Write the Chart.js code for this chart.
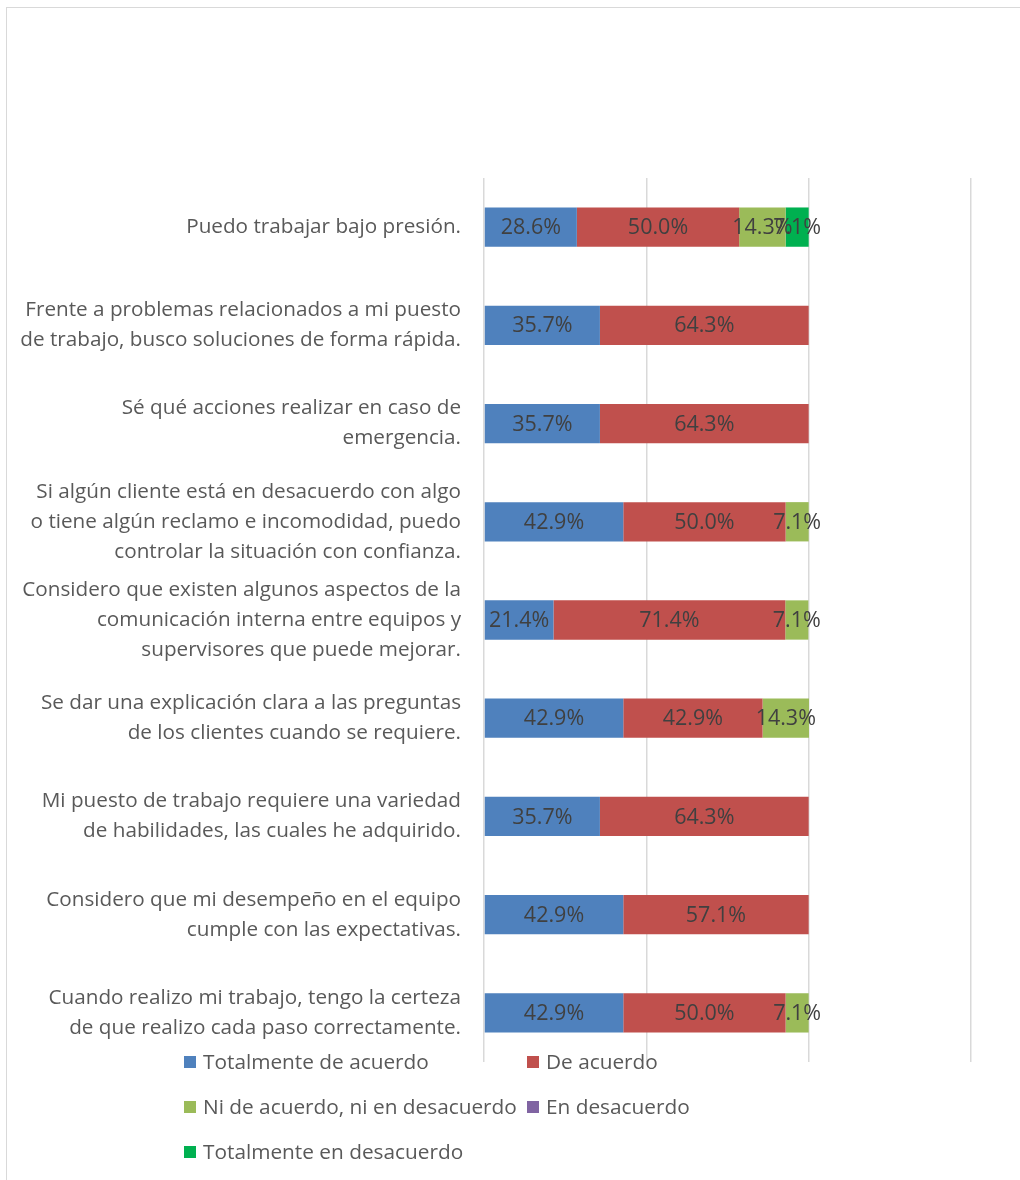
<!DOCTYPE html>
<html>
<head>
<meta charset="utf-8">
<script src="https://cdn.jsdelivr.net/npm/chart.js@4.4.1/dist/chart.umd.min.js"></script>
<style>
  html, body { margin: 0; padding: 0; background: #fff; overflow: hidden; }
  #wrap { position: relative; width: 1020px; height: 1180px; }
  #frame { position: absolute; left: 6px; top: 7px; width: 1100px; height: 1300px; border: 1px solid #d9d9d9; box-sizing: border-box; }
  canvas { position: absolute; left: 0; top: 0; }
  .leg { position: absolute; font-family: "Open Sans", Lato, sans-serif; font-size: 20.8px; color: #595959; white-space: nowrap; line-height: 22px; }
  .leg i { display: inline-block; width: 12px; height: 12px; margin-right: 7px; vertical-align: 1px; }
</style>
</head>
<body>
<div id="wrap">
  <div id="frame"></div>
  <canvas id="c" width="1020" height="1180"></canvas>
  <div id="legend"></div>
</div>
<script>
// Survey statements (multi-line labels, top to bottom)
const statements = [
  ['Puedo trabajar bajo presión.'],
  ['Frente a problemas relacionados a mi puesto', 'de trabajo, busco soluciones de forma rápida.'],
  ['Sé qué acciones realizar en caso de', 'emergencia.'],
  ['Si algún cliente está en desacuerdo con algo', 'o tiene algún reclamo e incomodidad, puedo', 'controlar la situación con confianza.'],
  ['Considero que existen algunos aspectos de la', 'comunicación interna entre equipos y', 'supervisores que puede mejorar.'],
  ['Se dar una explicación clara a las preguntas', 'de los clientes cuando se requiere.'],
  ['Mi puesto de trabajo requiere una variedad', 'de habilidades, las cuales he adquirido.'],
  ['Considero que mi desempeño en el equipo', 'cumple con las expectativas.'],
  ['Cuando realizo mi trabajo, tengo la certeza', 'de que realizo cada paso correctamente.']
];

// Response categories
const responseNames = [
  'Totalmente de acuerdo',
  'De acuerdo',
  'Ni de acuerdo, ni en desacuerdo',
  'En desacuerdo',
  'Totalmente en desacuerdo'
];
const responseColors = ['#4F81BD', '#C0504D', '#9BBB59', '#8064A2', '#00B050'];

// Percent of respondents per statement
const totalmenteDeAcuerdo   = [28.6, 35.7, 35.7, 42.9, 21.4, 42.9, 35.7, 42.9, 42.9];
const deAcuerdo             = [50.0, 64.3, 64.3, 50.0, 71.4, 42.9, 64.3, 57.1, 50.0];
const niDeAcuerdo           = [14.3, 0, 0, 7.1, 7.1, 14.3, 0, 0, 7.1];
const enDesacuerdo          = [0, 0, 0, 0, 0, 0, 0, 0, 0];
const totalmenteDesacuerdo  = [7.1, 0, 0, 0, 0, 0, 0, 0, 0];

// Value axis ticks (percent)
const axisTicks = [0, 50, 100, 150];

const seriesValues = [totalmenteDeAcuerdo, deAcuerdo, niDeAcuerdo, enDesacuerdo, totalmenteDesacuerdo];

const datasets = responseNames.map((name, i) => ({
  label: name,
  data: seriesValues[i],
  backgroundColor: responseColors[i],
  borderWidth: 0,
  categoryPercentage: 1.0,
  barPercentage: 0.4
}));

// Centered value labels on each segment
const segmentLabels = {
  id: 'segmentLabels',
  afterDatasetsDraw(chart) {
    const ctx = chart.ctx;
    ctx.save();
    ctx.font = '21.5px "Open Sans", Lato, sans-serif';
    ctx.fillStyle = '#404040';
    ctx.textAlign = 'center';
    ctx.textBaseline = 'middle';
    chart.data.datasets.forEach((ds, di) => {
      const meta = chart.getDatasetMeta(di);
      meta.data.forEach((bar, i) => {
        const v = ds.data[i];
        if (!v) return;
        const cx = (bar.x + bar.base) / 2;
        ctx.fillText(v.toFixed(1) + '%', cx, bar.y + 1);
      });
    });
    ctx.restore();
  }
};

new Chart(document.getElementById('c'), {
  type: 'bar',
  data: { labels: statements, datasets },
  plugins: [segmentLabels],
  options: {
    indexAxis: 'y',
    responsive: false,
    animation: false,
    layout: { padding: { left: 0, right: 49, top: 178, bottom: 118 } },
    plugins: { legend: { display: false }, tooltip: { enabled: false } },
    scales: {
      x: {
        stacked: true,
        min: axisTicks[0],
        max: axisTicks[axisTicks.length - 1],
        afterBuildTicks(scale) { scale.ticks = axisTicks.map(v => ({ value: v })); },
        ticks: { display: false },
        border: { display: false },
        grid: { color: '#d9d9d9', lineWidth: 1.5, drawTicks: false },
        afterFit(scale) { scale.height = 0; }
      },
      y: {
        stacked: true,
        grid: { display: false, drawTicks: false },
        border: { display: false },
        ticks: {
          color: '#595959',
          padding: 23,
          font: { family: '"Open Sans", Lato, sans-serif', size: 20.7, lineHeight: 1.45 }
        },
        afterFit(scale) { scale.width = 484; }
      }
    }
  }
});

// Legend laid out in two columns beneath the bars
const legendPos = [
  [184, 1061], [527, 1061],
  [184, 1106], [527, 1106],
  [184, 1151]
];
const legend = document.getElementById('legend');
responseNames.forEach((name, i) => {
  const d = document.createElement('div');
  d.className = 'leg';
  d.style.left = legendPos[i][0] + 'px';
  d.style.top = (legendPos[i][1] - 11) + 'px';
  d.innerHTML = '<i style="background:' + responseColors[i] + '"></i>' + name;
  legend.appendChild(d);
});
</script>
</body>
</html>
